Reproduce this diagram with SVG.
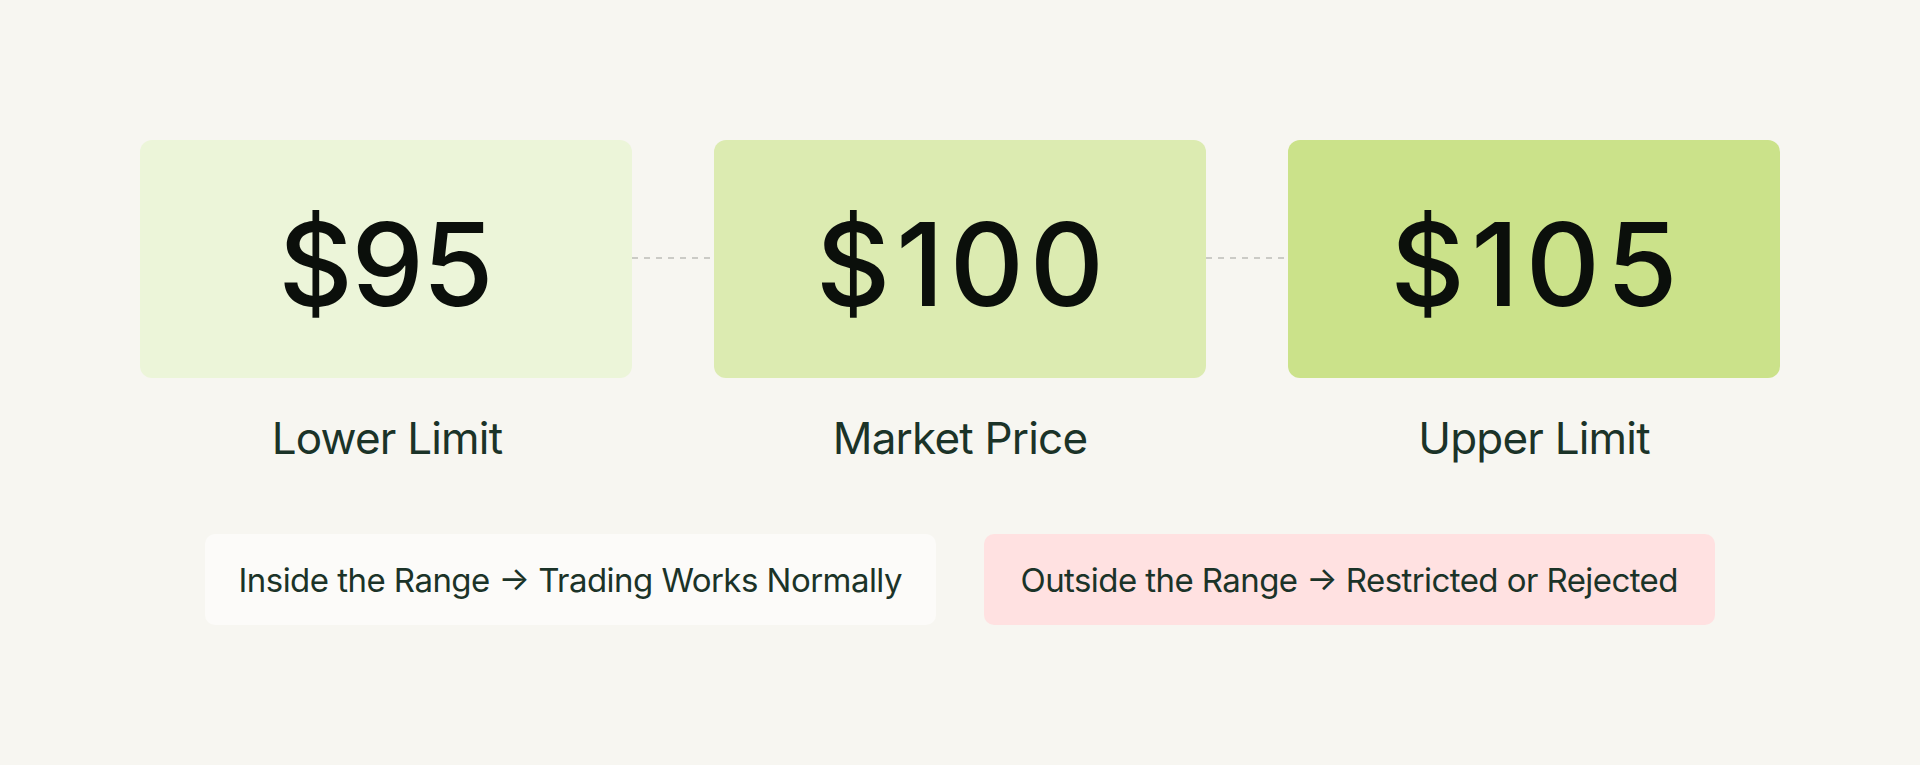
<svg xmlns="http://www.w3.org/2000/svg" width="1920" height="765" viewBox="0 0 1920 765">
  <style>
    .price { font-family: Inter, "Liberation Sans", sans-serif; font-weight: 500; font-size: 115px; fill: #0b0f0b; text-anchor: middle; }
    .label { font-family: Inter, "Liberation Sans", sans-serif; font-weight: 400; font-size: 44px; fill: #1b3328; text-anchor: middle; letter-spacing: -0.8px; }
    .note { font-family: Inter, "Liberation Sans", sans-serif; font-weight: 400; font-size: 33px; fill: #1b3328; text-anchor: middle; }
    .conn { stroke: #bdbdb8; stroke-width: 1.5; stroke-dasharray: 6 6; fill: none; }
  </style>
  <rect x="0" y="0" width="1920" height="765" fill="#f7f6f1"/>
  <g id="connectors">
    <line class="conn" x1="632" y1="258" x2="714" y2="258"/>
    <line class="conn" x1="1206" y1="258" x2="1288" y2="258"/>
  </g>
  <g id="lower-limit">
    <rect x="140" y="140" width="492" height="238" rx="12" fill="#ecf5d9"/>
    <text class="price" x="386" y="306" textLength="215" lengthAdjust="spacing">$95</text>
    <text class="label" x="387" y="454">Lower Limit</text>
  </g>
  <g id="market-price">
    <rect x="714" y="140" width="492" height="238" rx="12" fill="#dcebb1"/>
    <text class="price" x="960" y="306" textLength="288" lengthAdjust="spacing">$100</text>
    <text class="label" x="960" y="454">Market Price</text>
  </g>
  <g id="upper-limit">
    <rect x="1288" y="140" width="492" height="238" rx="12" fill="#cbe28a"/>
    <text class="price" x="1534" y="306" textLength="287" lengthAdjust="spacing">$105</text>
    <text class="label" x="1534" y="454">Upper Limit</text>
  </g>
  <g id="inside-range">
    <rect x="205" y="534" width="731" height="91" rx="10" fill="#fcfbf9"/>
    <text class="note" x="570.5" y="592" textLength="664" lengthAdjust="spacing">Inside the Range → Trading Works Normally</text>
  </g>
  <g id="outside-range">
    <rect x="984" y="534" width="731" height="91" rx="10" fill="#ffe1e1"/>
    <text class="note" x="1349.5" y="592" textLength="658" lengthAdjust="spacing">Outside the Range → Restricted or Rejected</text>
  </g>
</svg>
